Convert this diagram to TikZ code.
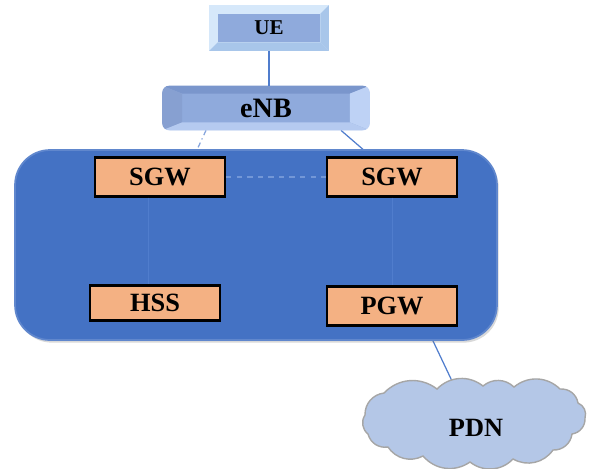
\documentclass[tikz,border=0pt]{standalone}
\usepackage{fontspec}
\setmainfont{Liberation Serif}
\usetikzlibrary{backgrounds,shadows}
\definecolor{coreblue}{RGB}{68,114,196}
\definecolor{nodepeach}{RGB}{244,177,131}
\definecolor{enbblue}{RGB}{143,170,220}
\definecolor{enbdark}{RGB}{122,150,204}
\definecolor{enblight}{RGB}{190,210,245}
\definecolor{uelight}{RGB}{214,232,250}
\definecolor{uedark}{RGB}{168,198,234}
\definecolor{cloudblue}{RGB}{180,199,231}
\definecolor{linkblue}{RGB}{80,125,205}
\begin{document}
\begin{tikzpicture}[x=0.02cm, y=-0.02cm,
    netbox/.style={draw=black, line width=1.4pt, fill=nodepeach, minimum width=2.6cm,
      minimum height=0.78cm, inner sep=0pt, font=\fontsize{15}{17}\selectfont\bfseries},
    link/.style={linkblue, line width=0.7pt},
    puff/.style={bend left=42}]
  \useasboundingbox (0,0) rectangle (590,468);

  % core network
  \node[fill=coreblue, draw=coreblue!85!white, line width=1pt, rounded corners=0.7cm,
    minimum width=9.64cm, minimum height=3.8cm,
    drop shadow={opacity=0.3, shadow xshift=1pt, shadow yshift=-1.5pt}] (core) at (256,245) {};
  \node[netbox] (sgwl) at (160,177) {SGW};
  \node[netbox] (sgwr) at (392,177) {SGW};
  \node[netbox, minimum height=0.7cm] (hss) at (155,303) {HSS};
  \node[netbox] (pgw) at (392,306) {PGW};

  % radio side
  \node[fill=enbblue, rounded corners=4pt, minimum width=4.14cm, minimum height=0.88cm] (enb) at (266,108) {};
  \begin{scope}
    \clip[rounded corners=4pt] (enb.north west) rectangle (enb.south east);
    \fill[enbdark] (enb.north west) -- ([shift={(0.4cm,-0.16cm)}]enb.north west)
      -- ([shift={(-0.4cm,-0.16cm)}]enb.north east) -- (enb.north east) -- cycle;
    \fill[enbdark!90!white] (enb.north west) -- ([shift={(0.4cm,-0.16cm)}]enb.north west)
      -- ([shift={(0.4cm,0.16cm)}]enb.south west) -- (enb.south west) -- cycle;
    \fill[enblight] (enb.north east) -- ([shift={(-0.4cm,-0.16cm)}]enb.north east)
      -- ([shift={(-0.4cm,0.16cm)}]enb.south east) -- (enb.south east) -- cycle;
    \fill[enblight!80!enbblue] (enb.south west) -- ([shift={(0.4cm,0.16cm)}]enb.south west)
      -- ([shift={(-0.4cm,0.16cm)}]enb.south east) -- (enb.south east) -- cycle;
  \end{scope}
  \node[font=\fontsize{16}{18}\selectfont\bfseries] at (enb) {eNB};

  \node[fill=enbblue, minimum width=2.04cm, minimum height=0.56cm, inner sep=0pt,
    font=\fontsize{12}{14}\selectfont\bfseries] (ue) at (269,28) {UE};
  \begin{scope}[on background layer]
    \fill[uelight] ([shift={(-0.17cm,0.17cm)}]ue.north west) rectangle ([shift={(0.17cm,-0.17cm)}]ue.south east);
    \fill[uedark] ([shift={(0.17cm,0.17cm)}]ue.north east) -- (ue.north east) -- (ue.south east)
      -- ([shift={(0.17cm,-0.17cm)}]ue.south east) -- cycle;
    \fill[uedark] ([shift={(-0.17cm,-0.17cm)}]ue.south west) -- (ue.south west) -- (ue.south east)
      -- ([shift={(0.17cm,-0.17cm)}]ue.south east) -- cycle;
  \end{scope}

  % packet data network
  \draw[fill=cloudblue, draw=gray!70, line width=0.8pt]
    (365,415) to[puff] (384,393) to[puff] (437,389) to[puff] (483,386) to[puff] (514,387)
    to[puff] (560,389) to[puff] (578,403) to[puff] (585,418) to[puff] (572,434)
    to[puff] (553,450) to[puff] (513,459) to[puff] (470,462) to[puff] (423,456)
    to[puff] (388,447) to[puff] (368,434) to[puff] cycle;
  \node[font=\fontsize{15}{17}\selectfont\bfseries] (pdn) at (476,428) {PDN};
  \coordinate (pdntop) at (452,381);

  % links
  \draw[link] (ue.south |- 0,51) -- (ue.south |- enb.north);
  \draw[link, dashed, linkblue!80!white] (sgwl.east) -- (sgwr.west);
  \draw[link, line width=0.5pt] ([xshift=-0.24cm]sgwl.south) -- ([xshift=-0.24cm]sgwl.south |- hss.north);
  \draw[link, line width=0.5pt] (sgwr.south) -- (pgw.north);
  \begin{scope}[on background layer]
    \draw[link, dash dot, linkblue!70!white] ([xshift=-1.2cm]enb.south) -- ([xshift=0.68cm]sgwl.north);
    \draw[link] ([xshift=1.5cm]enb.south) -- ([xshift=-0.42cm]sgwr.north);
    \draw[link] ([xshift=3.54cm]core.south) -- (pdntop);
  \end{scope}
\end{tikzpicture}
\end{document}
